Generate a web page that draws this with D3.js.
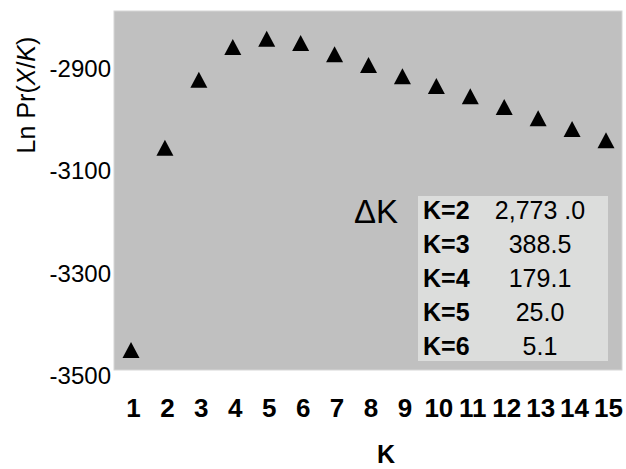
<!DOCTYPE html>
<html>
<head>
<meta charset="utf-8">
<script src="https://cdn.jsdelivr.net/npm/d3@7"></script>
<style>
  html, body { margin: 0; padding: 0; background: #fff; }
  svg { display: block; font-family: Arial, "Liberation Sans", sans-serif; }
</style>
</head>
<body>
<svg id="chart" width="626" height="469"></svg>
<script>
// ---- data ----
const kValues = [1, 2, 3, 4, 5, 6, 7, 8, 9, 10, 11, 12, 13, 14, 15];
const lnPr = [-3451, -3056, -2923, -2859, -2843, -2851, -2873, -2894, -2916, -2935, -2955, -2976, -2998, -3019, -3041];
const yTicks = [-2900, -3100, -3300, -3500];
const deltaKLabels = ["K=2", "K=3", "K=4", "K=5", "K=6"];
const deltaKValues = ["2,773 .0", "388.5", "179.1", "25.0", "5.1"];

// ---- layout ----
const plot = { left: 114, right: 622, top: 11, bottom: 370 };
const svg = d3.select("#chart");

const x = d3.scaleLinear().domain([1, 15]).range([131, 606]);
const y = d3.scaleLinear().domain([-3500, -2900]).range([375, 68]);

// plot background
svg.append("rect")
  .attr("x", plot.left).attr("y", plot.top)
  .attr("width", plot.right - plot.left).attr("height", plot.bottom - plot.top)
  .attr("fill", "#c0c0c0")
  .attr("stroke", "#d6d6d6").attr("stroke-width", 1);

// y axis labels
const yAxis = d3.axisLeft(y).tickValues(yTicks).tickSize(0).tickPadding(0).tickFormat(d => String(d));
const gy = svg.append("g").attr("transform", `translate(${plot.left - 3},0)`).call(yAxis);
gy.select(".domain").remove();
gy.selectAll("text")
  .attr("font-size", 24).attr("fill", "#000")
  .attr("font-family", "Arial, 'Liberation Sans', sans-serif")
  .attr("dy", "0.36em");

// x axis labels
const xAxis = d3.axisBottom(x).tickValues(kValues).tickSize(0).tickPadding(0).tickFormat(d => String(d));
const gx = svg.append("g").attr("transform", `translate(2,${plot.bottom})`).call(xAxis);
gx.select(".domain").remove();
gx.selectAll("text")
  .attr("font-size", 26).attr("font-weight", "bold").attr("fill", "#000")
  .attr("font-family", "Arial, 'Liberation Sans', sans-serif")
  .attr("y", 47).attr("dy", "0");

// axis titles
const yTitle = svg.append("text")
  .attr("transform", "translate(35,95) rotate(-90)")
  .attr("text-anchor", "middle")
  .attr("font-size", 25).attr("fill", "#000");
yTitle.append("tspan").text("Ln Pr(");
yTitle.append("tspan").attr("font-style", "italic").text("X");
yTitle.append("tspan").text("/");
yTitle.append("tspan").attr("font-style", "italic").text("K");
yTitle.append("tspan").text(")");

svg.append("text")
  .attr("x", 386).attr("y", 463)
  .attr("text-anchor", "middle")
  .attr("font-size", 25).attr("font-weight", "bold").attr("fill", "#000")
  .text("K");

// triangles
const tri = "M0,-8L8.5,8L-8.5,8Z";
svg.append("g").selectAll("path")
  .data(kValues.map((k, i) => ({ k, v: lnPr[i] })))
  .join("path")
  .attr("d", tri)
  .attr("transform", d => `translate(${x(d.k)},${y(d.v)})`)
  .attr("fill", "#000");

// Delta K table
const table = { left: 418, right: 608, top: 196, bottom: 361 };
svg.append("rect")
  .attr("x", table.left).attr("y", table.top)
  .attr("width", table.right - table.left).attr("height", table.bottom - table.top)
  .attr("fill", "#dcdddc");

svg.append("text")
  .attr("x", 354).attr("y", 223)
  .attr("font-size", 33).attr("fill", "#000")
  .text("\u0394K");

const rowY = d3.scalePoint().domain(deltaKLabels).range([210, 346]);
const rows = svg.append("g").selectAll("g")
  .data(deltaKLabels.map((l, i) => ({ l, v: deltaKValues[i] })))
  .join("g");
rows.append("text")
  .attr("x", 423).attr("y", d => rowY(d.l)).attr("dy", "0.36em")
  .attr("font-size", 25).attr("font-weight", "bold").attr("fill", "#000")
  .text(d => d.l);
rows.append("text")
  .attr("x", 540).attr("y", d => rowY(d.l)).attr("dy", "0.36em")
  .attr("text-anchor", "middle")
  .attr("font-size", 25).attr("fill", "#000")
  .text(d => d.v);
</script>
</body>
</html>
